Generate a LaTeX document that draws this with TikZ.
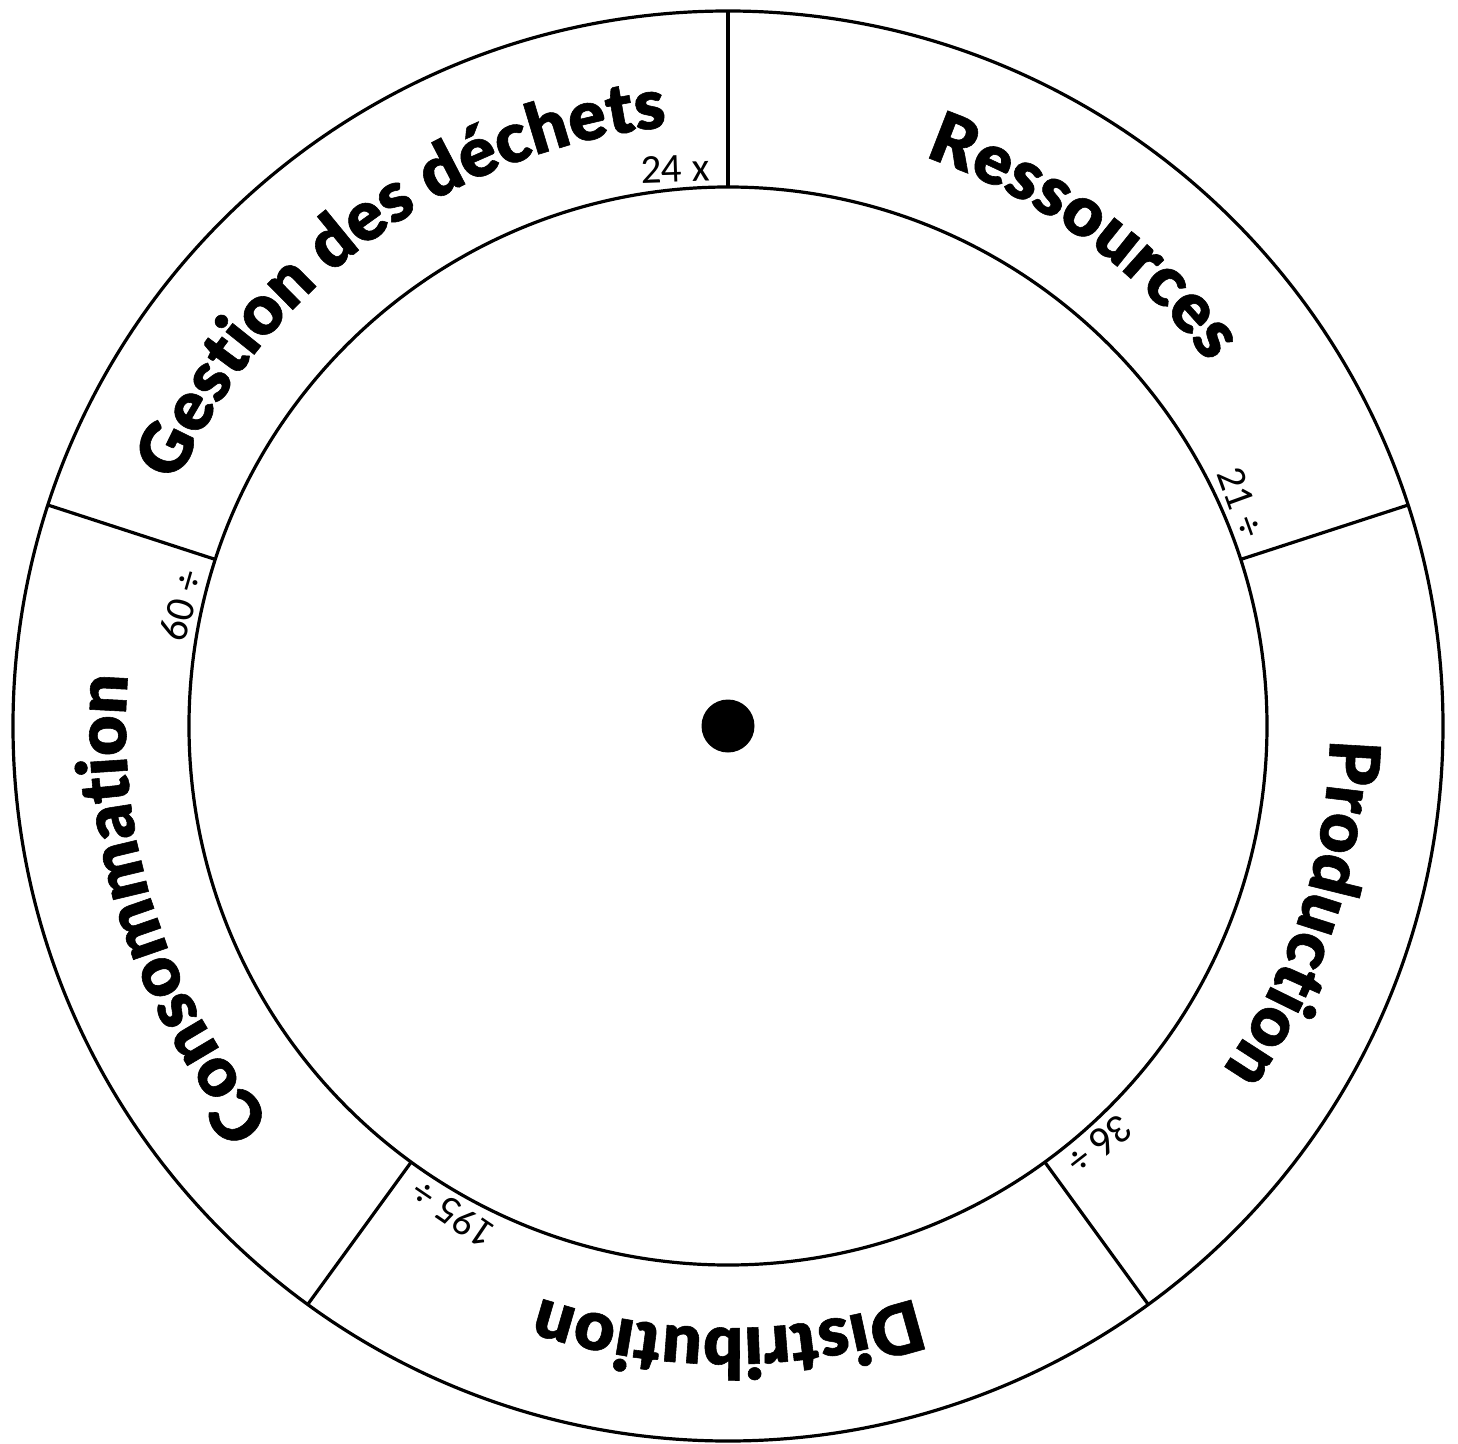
\documentclass[tikz,border=0pt]{standalone}
\usepackage{fontspec}
\usetikzlibrary{decorations.text}
\IfFontExistsTF{Lato Black}{\newfontfamily\heavyfont{Lato Black}[FakeBold=0.8]}{\newfontfamily\heavyfont{Lato}[FakeBold=2]}
\newfontfamily\smallfont{Carlito}
\tikzset{
  ring/.style={line width=3.2pt, draw=black},
  lbl/.style={font=\smallfont\fontsize{41}{41}\selectfont, inner sep=0pt, anchor=base east},
  sectortext/.style={decorate, decoration={text along path, text align=center,
     text={|\heavyfont\fontsize{70}{70}\selectfont|#1}}}
}
\begin{document}
\begin{tikzpicture}[x=1pt,y=1pt]
\useasboundingbox (-728,-717) rectangle (730,726);
\fill[white] (-728,-717) rectangle (730,726);
% rings
\draw[ring] (0,0) circle[radius=715];
\draw[ring] (0,0) circle[radius=539];
% dividers
\foreach \a/\n in {90/d1,18/d2,-54/d3,-126/d4,162/d5}{
  \coordinate (\n in) at (\a:539);
  \coordinate (\n out) at (\a:715);
  \draw[ring] (\n in) -- (\n out);
}
% centre dot
\node[circle, fill=black, minimum size=53pt, inner sep=0pt] (hub) at (0,0) {};
% sector titles
\path[sectortext={Ressources}] (90:602) arc[start angle=90, end angle=18, radius=602];
\path[sectortext={Production}] (18:602) arc[start angle=18, end angle=-54, radius=602];
\path[sectortext={Distribution}] (-54:602) arc[start angle=-54, end angle=-126, radius=602];
\path[sectortext={Consommation}] (-126:602) arc[start angle=-126, end angle=-198, radius=602];
\path[sectortext={Gestion des déchets}] (162:602) arc[start angle=162, end angle=90, radius=602];
% small labels
\node[lbl, rotate=1.9] (l1) at (91.9:545) {24 x};
\node[lbl, rotate=-70.1] (l2) at (19.9:545) {21 ÷};
\node[lbl, rotate=-142.1] (l3) at (-52.1:545) {36 ÷};
\node[lbl, rotate=-214.1] (l4) at (-124.1:545) {195 ÷};
\node[lbl, rotate=73.9] (l5) at (163.9:545) {60 ÷};
\end{tikzpicture}
\end{document}
